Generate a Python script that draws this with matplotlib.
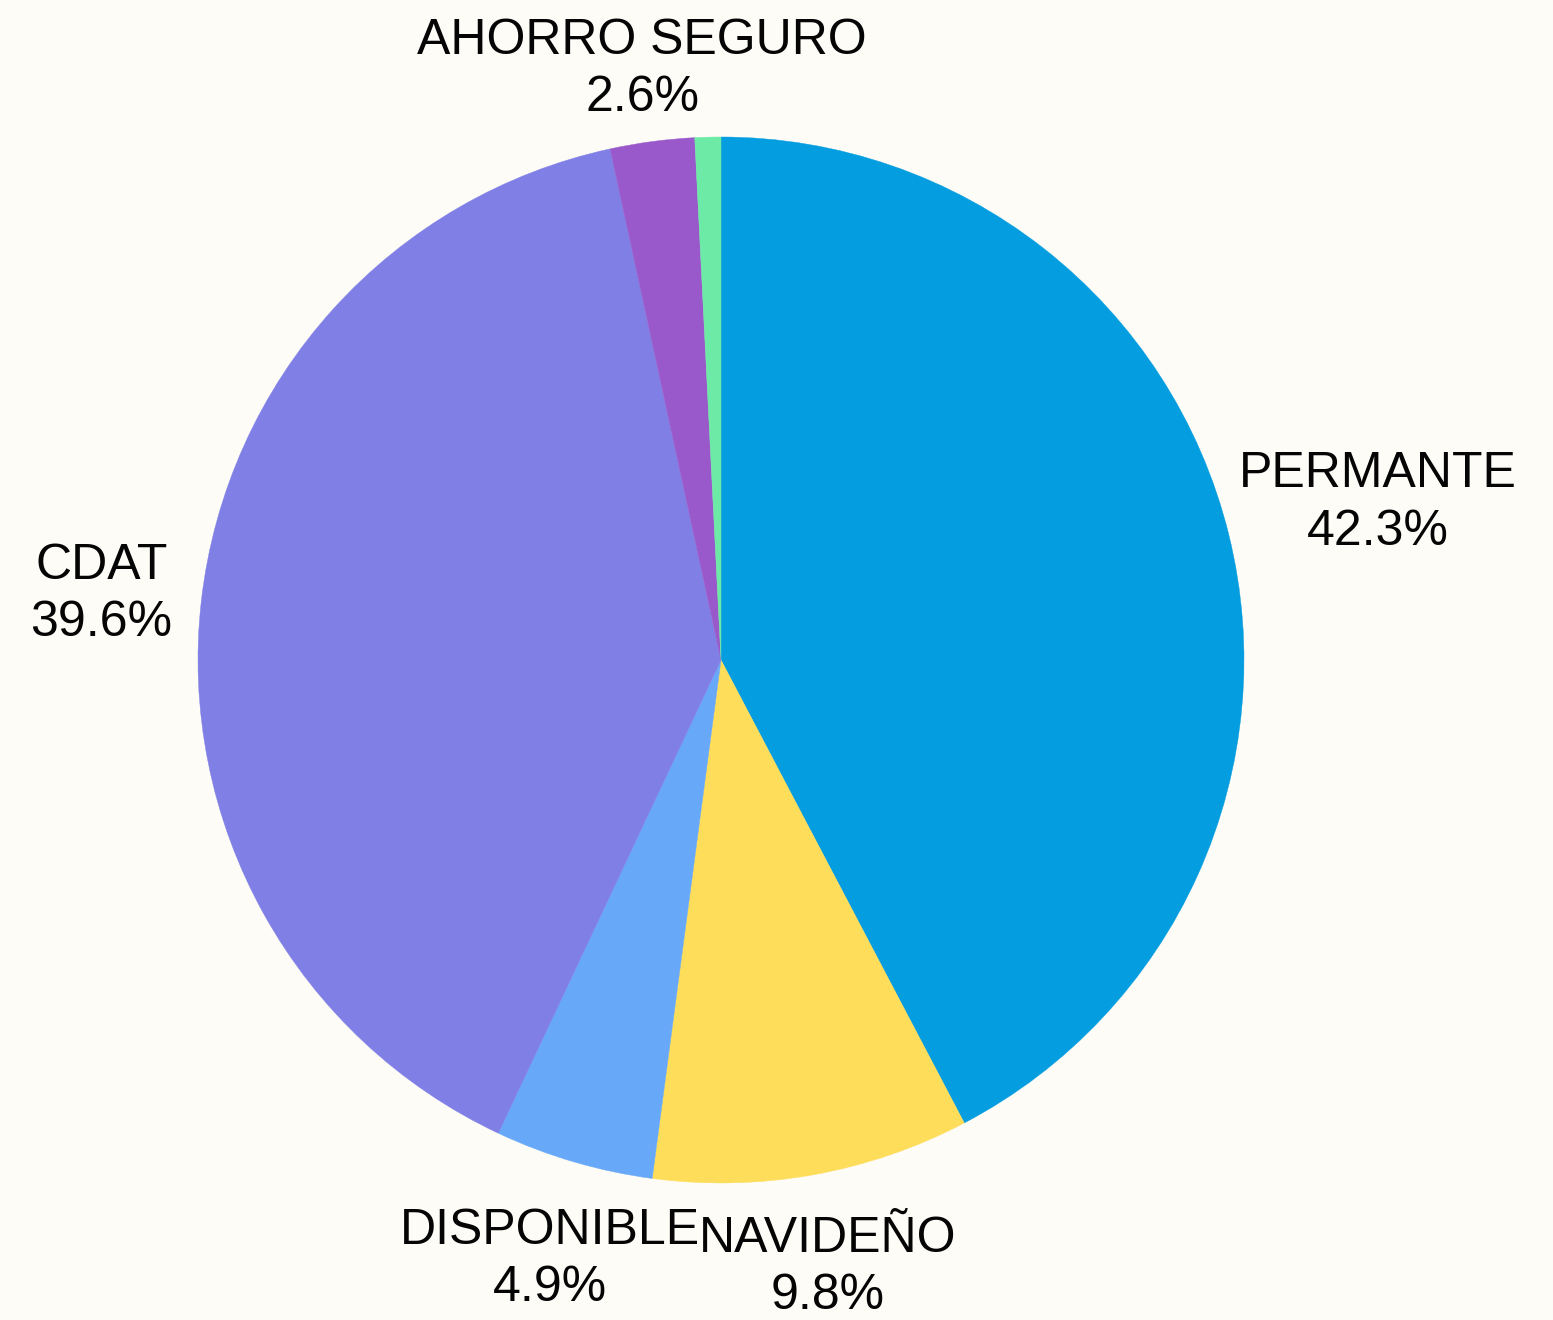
import numpy as np
import matplotlib
matplotlib.use("Agg")
import matplotlib.pyplot as plt

# ---- data ----
categories = ["PERMANTE", "NAVIDEÑO", "DISPONIBLE", "CDAT", "AHORRO SEGURO", ""]
values = [42.3, 9.8, 4.9, 39.6, 2.6, 0.8]
show_label = [True, True, True, True, True, False]

# ---- style ----
colors = ["#039DE0", "#FEDD5A", "#67A8F8", "#7F7FE5", "#9A59CA", "#6DEBA6"]
label_dist = [1.293, 1.170, 1.184, 1.192, 1.148, 1.1]  # radial distance of label centres

BG = "#FDFCF7"
W, H, DPI = 1553, 1320, 100
CX, CY, R = 721, 660, 523  # pixel center / radius

fig = plt.figure(figsize=(W / DPI, H / DPI), dpi=DPI, facecolor=BG)
ax = fig.add_axes([0, 0, 1, 1])
ax.set_facecolor(BG)

wedges, _ = ax.pie(values, colors=colors, startangle=90, counterclock=False,
                   radius=1.0, wedgeprops=dict(linewidth=0, antialiased=True))
for w in wedges:
    w.set_edgecolor(w.get_facecolor())
    w.set_linewidth(0.3)

ax.set_xlim(-CX / R, (W - CX) / R)
ax.set_ylim(-(H - CY) / R, CY / R)
ax.set_aspect("equal")
ax.axis("off")

ydrop = 5 / R  # bbox centre vs. cap-box centre correction
xshift = [0, 0, 4 / R, 0, 0, 0]
for w, name, val, show, dist, dx in zip(wedges, categories, values, show_label, label_dist, xshift):
    if not show:
        continue
    ang = np.deg2rad((w.theta1 + w.theta2) / 2)
    x, y = dist * np.cos(ang) + dx, dist * np.sin(ang) - ydrop
    ax.text(x, y, f"{name}\n{val:.1f}%", ha="center", va="center",
            fontsize=36, family=["Liberation Sans", "DejaVu Sans"],
            color="#050505", linespacing=1.31, multialignment="center")

fig.savefig("out.png", dpi=DPI, facecolor=BG)
